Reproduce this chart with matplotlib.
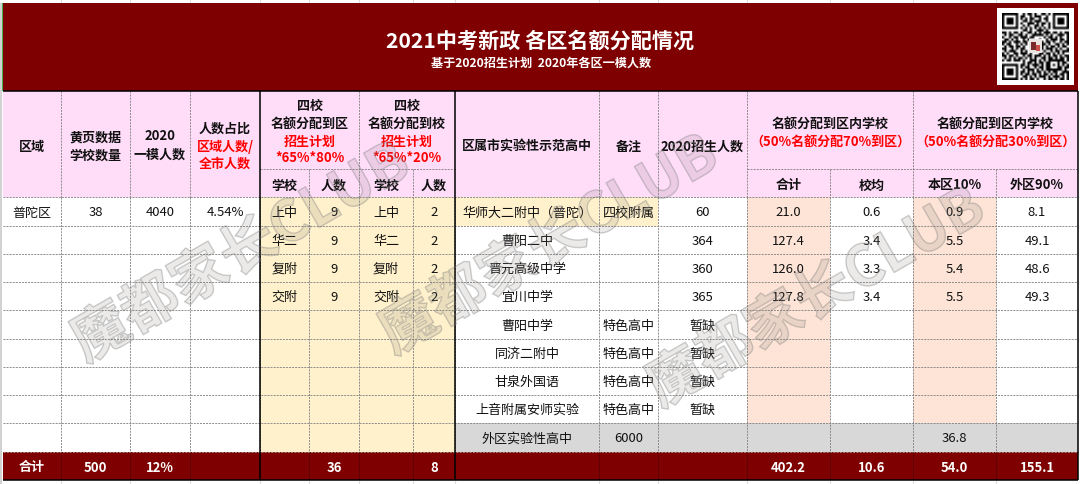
import numpy as np
import matplotlib
matplotlib.use('Agg')
import matplotlib.pyplot as plt
import matplotlib.patches as mpatches
import matplotlib.patheffects as pe

plt.rcParams['font.family'] = ['Noto Sans CJK SC', 'DejaVu Sans']

# table content
title = '2021中考新政 各区名额分配情况'
subtitle = '基于2020招生计划  2020年各区一模人数'
watermark = '魔都家长CLUB'

districts = ['普陀区']
school_counts = ['38']
exam_counts = ['4040']
shares = ['4.54%']
four_schools = ['上中', '华二', '复附', '交附']
to_district = ['9', '9', '9', '9']
to_school = ['2', '2', '2', '2']
high_schools = ['华师大二附中（普陀）', '曹阳二中', '晋元高级中学', '宜川中学', '曹阳中学',
                '同济二附中', '甘泉外国语', '上音附属安师实验', '外区实验性高中']
notes = ['四校附属', '', '', '', '特色高中', '特色高中', '特色高中', '特色高中', '6000']
plan_2020 = ['60', '364', '360', '365', '暂缺', '暂缺', '暂缺', '暂缺', '']
total_in = ['21.0', '127.4', '126.0', '127.8']
avg_in = ['0.6', '3.4', '3.3', '3.4']
local_10 = ['0.9', '5.5', '5.4', '5.5']
other_90 = ['8.1', '49.1', '48.6', '49.3']
other_total = '36.8'
footer = ['合计', '500', '12%', '', '', '36', '', '8', '', '', '', '402.2', '10.6', '54.0', '155.1']

qr_rows = [
    '#######..#.##.#..##.#.#######',
    '#.....#.##..#.###..#..#.....#',
    '#.###.#.#.#.##..#.##..#.###.#',
    '#.###.#..##.#.###..#..#.###.#',
    '#.###.#.#..###.#.##.#.#.###.#',
    '#.....#..#.#..##.#..#.#.....#',
    '#######.#.#.#.#.#.#.#.#######',
    '.........##.#..###.#.........',
    '##.#.##.#..##.#.#.###.##.#.##',
    '.#.##..##.#..#####.#.#..###.#',
    '#..#.##.###.##....#.##.#.#..#',
    '.##.#.#..#.#....#..#.###.##.#',
    '##.#.###.##......#.##.#..#.##',
    '#.##..#.#.#......##.#..##.#.#',
    '.#.##.##.#.......#.#.##.#.##.',
    '##..#.#.##.......#.###.#.#..#',
    '.#.###..#.#.....#.#..#.##.###',
    '#.#..##.###.#...##.##.#.#.#..',
    '##.##.#..#.##.###.#.#.##.#.##',
    '.#.#.#.##.#.#.#..##.##.#.##.#',
    '#.##.###.#..###.#.#.#######.#',
    '.........#.##.#.##.##...#.##.',
    '#######.##.#.###.#.##.#.#.#.#',
    '#.....#.#.##..#.##.##...##.##',
    '#.###.#..#.###.#.#.#######.#.',
    '#.###.#.##.#.#.##.#.#.##..###',
    '#.###.#.#.##.##.#.##.#.#.##.#',
    '#.....#..##.#.#.###.#.###.#.#',
    '#######.#.#.##.#..#.##.#.##.#',
]

# layout in pixels of the 1080x484 picture
col_x = [3, 61, 130, 190, 260, 309, 359, 413, 455, 599, 658, 747, 830, 913, 996, 1078]
row_y = [197, 226, 254, 282, 310, 339, 367, 395, 423, 452, 480]

DARK_RED = '#7E0000'
PINK = '#FFDDF9'
YELLOW = '#FFF1CC'
PEACH = '#FDE4D6'
GREY = '#D8D8D8'
GRID = '#858585'
TXT = '#111111'
RED = '#FF0000'

BODY = 9.4


def box(ax, x0, y0, x1, y1, color, z=1):
	ax.add_patch(mpatches.Rectangle((x0, y0), x1 - x0, y1 - y0, facecolor=color, edgecolor='none', zorder=z))


def dash(ax, x0, y0, x1, y1, color=GRID, lw=0.65):
	ax.plot([x0, x1], [y0, y1], color=color, lw=lw, dashes=(2.2, 1.2), zorder=3, solid_capstyle='butt')


def solid(ax, x0, y0, x1, y1, lw=1.1):
	ax.plot([x0, x1], [y0, y1], color='black', lw=lw, zorder=4, solid_capstyle='butt')


def put(ax, x, y, s, color=TXT, bold=False, size=BODY):
	ax.text(x, y, s, color=color, fontsize=size, ha='center', va='center_baseline',
		fontweight='bold' if bold else 'normal', zorder=6)


def col_mid(i, j=None):
	j = i + 1 if j is None else j
	return (col_x[i] + col_x[j]) / 2


def row_mid(i):
	return (row_y[i] + row_y[i + 1]) / 2


fig = plt.figure(figsize=(10.8, 4.84), dpi=100)
ax = fig.add_axes([0, 0, 1, 1])
ax.set_xlim(0, 1080)
ax.set_ylim(484, 0)
ax.axis('off')

# spreadsheet surroundings
for x in col_x[1:-1]:
	ax.plot([x, x], [0, 3], color='#dddddd', lw=0.8, zorder=1)
	ax.plot([x, x], [481, 484], color='#dddddd', lw=0.8, zorder=1)
box(ax, 0, 3, 2.2, 484, '#d2d2d2')

# fills
box(ax, 3, 3, 1078, 91, DARK_RED)
box(ax, 2, 3, 3, 91, '#4caf50')
box(ax, 3, 91, 1078, 197, PINK)
box(ax, col_x[4], 197, col_x[8], row_y[9], YELLOW)
box(ax, col_x[8], 197, col_x[10], row_y[1], YELLOW)
box(ax, col_x[11], 197, col_x[12], row_y[8], PEACH)
box(ax, col_x[13], 197, col_x[14], row_y[8], PEACH)
box(ax, col_x[8], row_y[8], 1078, row_y[9], GREY)
box(ax, 3, row_y[9], 1078, 480, DARK_RED)

# grid lines in the body
for y in row_y[:-2]:
	dash(ax, 3, y, 1078, y)
dash(ax, 3, row_y[9], 1078, row_y[9], color='#a08080', lw=0.7)
for i, x in enumerate(col_x[1:-1], 1):
	dash(ax, x, 197, x, row_y[9])
	dash(ax, x, row_y[9], x, 480, color='#4a0000', lw=0.6)

# grid lines in the header
for x in [61, 130, 190, 359, 599, 658, 747, 913]:
	dash(ax, x, 91, x, 197)
for x in [309, 413, 830, 996]:
	dash(ax, x, 169, x, 197)
dash(ax, 260, 169, 455, 169)
dash(ax, 747, 169, 1078, 169)

# black frame
solid(ax, 3, 91, 1078, 91)
solid(ax, 3, 480, 1078, 480)
solid(ax, 260, 91, 260, 480)
solid(ax, 455, 91, 455, 480)
solid(ax, 1078, 91, 1078, 480)

# title band
ax.text(540, 39, title, color='white', fontsize=15.2, fontweight='bold', ha='center', va='center_baseline', zorder=6)
ax.text(541, 62, subtitle, color='white', fontsize=8.75, fontweight='bold', ha='center', va='center_baseline', zorder=6)

# qr code
box(ax, 997, 8, 1074, 85, 'white', z=5)
qr = np.array([[0.0 if c == '#' else 1.0 for c in r.ljust(29, '.')[:29]] for r in qr_rows])
ax.imshow(qr, cmap='gray', vmin=0, vmax=1, extent=(1002, 1069, 80, 13), interpolation='bilinear', zorder=5.5, aspect='auto')
ax.set_xlim(0, 1080)
ax.set_ylim(484, 0)
box(ax, 1029, 39, 1042, 53, '#e9e4e2', z=5.6)
box(ax, 1031, 42, 1036, 50, '#7a2a2a', z=5.7)
box(ax, 1036, 45, 1040, 51, '#c8504a', z=5.7)

# header text
put(ax, col_mid(0), 145, '区域', bold=True)
put(ax, col_mid(1), 136, '黄页数据', bold=True)
put(ax, col_mid(1), 154, '学校数量', bold=True)
put(ax, col_mid(2), 135, '2020', bold=True)
put(ax, col_mid(2), 153, '一模人数', bold=True)
put(ax, col_mid(3), 127, '人数占比', bold=True)
put(ax, col_mid(3), 145, '区域人数/', color=RED, bold=True)
put(ax, col_mid(3), 162, '全市人数', color=RED, bold=True)
for j, (a, b) in enumerate([(4, 6), (6, 8)]):
	put(ax, col_mid(a, b), 104, '四校', bold=True)
	put(ax, col_mid(a, b), 122, '名额分配到区' if j == 0 else '名额分配到校', bold=True)
	put(ax, col_mid(a, b), 140, '招生计划', color=RED, bold=True)
	put(ax, col_mid(a, b), 157, '*65%*80%' if j == 0 else '*65%*20%', color=RED, bold=True)
for i, s in zip(range(4, 8), ['学校', '人数', '学校', '人数']):
	put(ax, col_mid(i), 184, s, bold=True)
put(ax, col_mid(8), 145, '区属市实验性示范高中', bold=True)
put(ax, col_mid(9), 145, '备注', bold=True)
put(ax, col_mid(10), 145, '2020招生人数', bold=True)
put(ax, col_mid(11, 13), 122, '名额分配到区内学校', bold=True)
put(ax, col_mid(11, 13), 141, '（50%名额分配70%到区）', color=RED, bold=True)
put(ax, col_mid(13, 15), 122, '名额分配到区内学校', bold=True)
put(ax, col_mid(13, 15), 141, '（50%名额分配30%到区）', color=RED, bold=True)
for i, s in zip(range(11, 15), ['合计', '校均', '本区10%', '外区90%']):
	put(ax, col_mid(i), 184, s, bold=True)

# body text
put(ax, col_mid(0), row_mid(0), districts[0])
put(ax, col_mid(1), row_mid(0), school_counts[0])
put(ax, col_mid(2), row_mid(0), exam_counts[0])
put(ax, col_mid(3), row_mid(0), shares[0])
for r in range(4):
	put(ax, col_mid(4), row_mid(r), four_schools[r])
	put(ax, col_mid(5), row_mid(r), to_district[r])
	put(ax, col_mid(6), row_mid(r), four_schools[r])
	put(ax, col_mid(7), row_mid(r), to_school[r])
	put(ax, col_mid(11), row_mid(r), total_in[r])
	put(ax, col_mid(12), row_mid(r), avg_in[r])
	put(ax, col_mid(13), row_mid(r), local_10[r])
	put(ax, col_mid(14), row_mid(r), other_90[r])
for r in range(9):
	put(ax, col_mid(8), row_mid(r), high_schools[r])
	put(ax, col_mid(9), row_mid(r), notes[r])
	put(ax, col_mid(10), row_mid(r), plan_2020[r])
put(ax, col_mid(13), row_mid(8), other_total)
for i, s in enumerate(footer):
	put(ax, col_mid(i), row_mid(9), s, color='white', bold=True)

# watermarks
for cx, cy in [(241, 253), (549, 245), (816, 298)]:
	ax.text(cx, cy, watermark, fontsize=41, fontweight='bold', rotation=30, rotation_mode='anchor',
		ha='center', va='center', color=(0.45, 0.42, 0.40, 0.14), zorder=7,
		path_effects=[pe.Stroke(linewidth=1.0, foreground=(0.5, 0.5, 0.5, 0.38))])

fig.savefig('out.png', dpi=100)
